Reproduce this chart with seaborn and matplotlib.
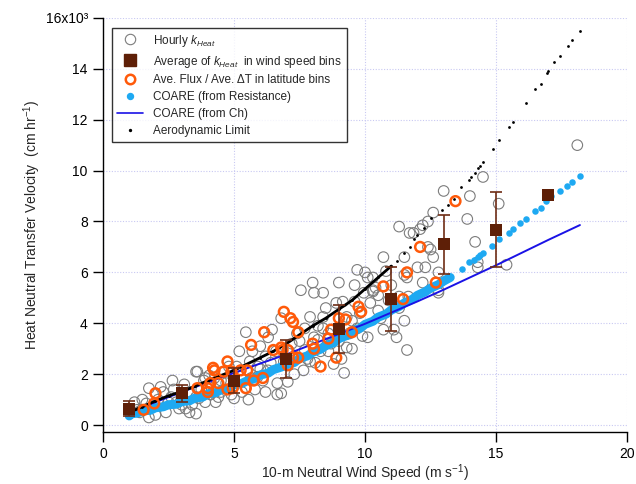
import matplotlib
matplotlib.use("Agg")
import matplotlib.pyplot as plt
import seaborn as sns
import pandas as pd
from matplotlib.lines import Line2D

# ---- Hourly transfer velocity estimates (wind m/s, k in 10^3 cm/hr) ----
hourly_wind = [18.1, 14.5, 13.0, 14.0, 15.1, 13.9, 14.2, 12.6, 12.4, 12.2, 12.1, 11.85,
               12.5, 12.6, 12.4, 12.8, 12.3, 14.3, 14.3, 15.4, 12.8, 12.2, 11.5, 10.7,
               12.0, 11.5, 11.6, 10.8, 10.3, 12.8, 10.4, 10.3, 11.3, 11.65, 11.5, 10.7,
               11.1, 11.2, 11.6, 9.7, 10.0, 10.1, 9.0, 7.55, 8.05, 8.4, 10.3, 8.9,
               9.15, 9.6, 9.95, 8.4, 7.9, 9.3, 9.5, 8.4, 8.6, 9.7, 10.1, 9.3,
               9.5, 8.05, 8.2, 7.7, 8.6, 7.9, 8.1, 7.65, 9.2, 7.05, 6.8, 5.2,
               3.6, 3.85, 4.05, 4.25, 4.5, 4.7, 5.0, 5.25, 5.65, 5.9, 6.1, 6.3,
               6.4, 6.65, 5.55, 5.0, 4.5, 4.4, 6.65, 3.55, 3.75, 6.3, 1.75, 2.2,
               2.3, 2.0, 1.75, 2.4, 2.9, 3.15, 2.65, 3.55, 3.9, 3.3, 3.55, 3.65,
               3.9, 1.65, 6.8, 6.45, 5.45, 1.3, 1.5, 2.6, 2.8, 3.1, 4.8, 5.6,
               6.0, 6.2, 5.8, 7.3, 7.4, 7.2, 8.8, 9.8, 10.5, 10.9, 11.7,
               1.2, 1.4, 2.1, 2.5, 2.7, 3.0, 3.3, 3.4, 4.1, 4.3, 4.6, 4.9,
               5.1, 5.3, 5.7, 5.9, 6.0, 6.2, 6.6, 6.9, 7.1, 7.3, 7.5, 7.7,
               7.8, 8.2, 8.3, 8.5, 8.7, 9.0, 9.1, 9.4, 9.9, 10.2, 10.6, 11.0,
               11.3, 8.0, 9.6, 10.5, 11.3]
hourly_k = [11.0, 9.75, 9.2, 9.0, 8.7, 8.1, 7.2, 8.35, 8.0, 7.85, 7.7, 7.55,
            6.9, 6.6, 7.0, 6.0, 6.2, 6.2, 6.4, 6.3, 5.2, 5.6, 6.6, 6.6,
            6.2, 5.9, 5.8, 6.05, 5.8, 5.3, 5.4, 5.25, 5.05, 5.05, 4.1, 3.75,
            3.75, 3.45, 2.95, 6.1, 6.0, 5.8, 5.6, 5.3, 5.2, 5.2, 5.3, 4.8,
            4.85, 4.85, 5.2, 4.25, 4.25, 4.25, 4.1, 3.8, 3.6, 3.8, 3.45, 3.05,
            3.0, 3.45, 3.35, 2.95, 2.9, 2.5, 2.45, 2.15, 2.05, 1.7, 1.25, 2.9,
            2.1, 1.75, 1.95, 1.85, 1.75, 1.65, 1.55, 1.9, 1.85, 1.9, 1.75, 2.15,
            2.45, 1.65, 1.0, 1.05, 1.3, 1.1, 1.2, 1.1, 1.4, 3.45, 1.45, 1.5,
            1.3, 0.4, 0.3, 0.5, 0.65, 0.65, 1.75, 2.1, 1.85, 0.5, 0.45, 1.05,
            0.9, 0.85, 4.2, 3.75, 3.65, 0.6, 1.0, 1.1, 0.9, 1.6, 2.3, 2.5,
            2.2, 1.3, 1.4, 2.0, 3.6, 3.2, 2.4, 4.4, 4.5, 4.9, 7.55,
            0.9, 0.5, 1.0, 0.9, 1.4, 0.8, 1.3, 0.8, 1.2, 0.9, 2.1, 1.2,
            2.3, 1.3, 2.9, 2.3, 3.1, 2.7, 2.9, 2.5, 2.9, 2.7, 3.3, 3.8,
            2.6, 3.9, 2.9, 4.6, 3.2, 3.3, 2.6, 3.6, 3.5, 4.8, 4.2, 5.5,
            4.6, 5.6, 5.5, 5.1, 7.8]

# ---- Bin averages in wind speed bins ----
bin_wind = [1, 3, 5, 7, 9, 11, 13, 15, 17]
bin_k = [0.65, 1.25, 1.75, 2.6, 3.78, 4.95, 7.1, 7.68, 9.05]
bin_sd = [0.3, 0.33, 0.5, 0.75, 0.93, 1.25, 1.15, 1.48, 0.0]

# ---- Ave. flux / ave. dT in latitude bins ----
lat_wind = [2.0, 1.55, 1.95, 4.2, 4.0, 6.9, 7.15, 7.25, 6.15, 5.65, 4.25, 4.75,
            4.6, 4.9, 5.25, 5.5, 5.75, 6.1, 5.45, 4.1, 4.4, 4.0, 4.75, 4.95,
            6.5, 6.8, 7.45, 6.85, 7.05, 7.05, 7.45, 8.0, 8.05, 8.3, 8.9, 8.7,
            8.6, 9.0, 9.25, 9.5, 9.75, 9.85, 10.7, 13.45, 12.1, 11.6, 12.7, 11.45,
            7.25, 3.6]
lat_k = [1.25, 0.6, 0.85, 2.25, 1.45, 4.45, 4.2, 4.05, 3.65, 3.15, 2.15, 2.5,
         2.1, 2.1, 2.15, 2.15, 1.75, 1.85, 1.45, 1.65, 1.65, 1.3, 1.4, 1.45,
         2.95, 3.05, 3.65, 2.95, 2.95, 2.35, 2.65, 3.2, 3.0, 2.3, 2.65, 3.75,
         3.4, 4.2, 4.15, 3.65, 4.65, 4.45, 5.45, 8.8, 7.0, 6.0, 5.6, 4.95,
         2.65, 1.45]

# ---- COARE bulk model, transfer from resistance ----
coare_r_wind = [1.0, 1.1, 1.3, 1.5, 1.8, 2.0, 2.3, 2.5, 2.8, 3.0, 3.3, 3.5, 3.8,
                4.0, 4.3, 4.5, 4.8, 5.0, 5.3, 5.5, 5.8, 6.0, 6.3, 6.5, 6.8, 7.0,
                7.3, 7.5, 7.8, 8.0, 8.3, 8.5, 8.8, 9.0, 9.3, 9.5, 9.8, 10.0, 10.3,
                10.5, 10.8, 11.0, 11.3, 11.5, 11.8, 12.0, 12.3, 12.5, 12.8, 13.0, 13.25,
                13.7, 13.95, 14.15, 14.3, 14.4, 14.5, 14.85, 15.1, 15.5, 15.65, 15.9,
                16.15, 16.5, 16.7, 16.9, 17.1, 17.45, 17.7, 17.9, 18.2]
coare_r_k = [0.36, 0.45, 0.47, 0.56, 0.58, 0.68, 0.72, 0.8, 0.82, 0.92, 0.96, 1.06, 1.1,
             1.22, 1.28, 1.38, 1.45, 1.58, 1.64, 1.74, 1.84, 1.97, 2.04, 2.18, 2.28, 2.37,
             2.46, 2.62, 2.72, 2.86, 2.98, 3.12, 3.24, 3.4, 3.52, 3.68, 3.8, 3.96, 4.08,
             4.24, 4.36, 4.52, 4.66, 4.8, 4.94, 5.1, 5.24, 5.38, 5.52, 5.66, 5.8,
             6.15, 6.4, 6.5, 6.6, 6.7, 6.75, 7.05, 7.3, 7.55, 7.7, 7.95,
             8.1, 8.4, 8.55, 8.8, 9.0, 9.2, 9.4, 9.55, 9.8]
coare_r_dense_max = 13.25

# ---- COARE bulk model, transfer from Ch ----
coare_ch_wind = [1.0, 2.0, 3.0, 4.0, 5.0, 6.0, 7.0, 8.0, 9.0, 10.0, 11.0, 12.0,
                 13.0, 14.0, 15.0, 16.0, 17.0, 18.2]
coare_ch_k = [0.5, 0.9, 1.3, 1.68, 2.05, 2.42, 2.78, 3.18, 3.58, 3.98, 4.42, 4.86,
              5.32, 5.8, 6.28, 6.78, 7.28, 7.86]

# ---- Aerodynamic limit ----
aero_wind = [1.0, 1.5, 2.0, 2.5, 3.0, 3.5, 4.0, 4.5, 5.0, 5.5, 6.0, 6.5, 7.0, 7.5,
             8.0, 8.5, 9.0, 9.5, 10.0, 10.5, 11.0,
             11.2, 11.5, 11.7, 11.85, 12.0, 12.25, 12.5, 12.95, 13.15, 13.4, 13.65,
             13.95, 14.05, 14.2, 14.3, 14.4, 14.5, 14.9, 15.1, 15.5, 15.65, 16.15,
             16.5, 16.7, 16.95, 17.0, 17.2, 17.45, 17.75, 17.9, 18.2]
aero_k = [0.5, 0.72, 0.95, 1.15, 1.32, 1.52, 1.75, 1.95, 2.15, 2.4, 2.65, 2.9, 3.2, 3.55,
          3.9, 4.2, 4.55, 4.9, 5.35, 5.8, 6.25,
          6.45, 6.75, 7.0, 7.3, 7.45, 7.75, 8.15, 8.45, 8.65, 8.9, 9.35,
          9.65, 9.75, 9.9, 10.1, 10.2, 10.35, 10.85, 11.2, 11.7, 11.9, 12.65,
          13.2, 13.4, 13.85, 13.9, 14.25, 14.5, 14.9, 15.15, 15.5]
aero_dense_max = 11.0

x_ticks = [0, 5, 10, 15, 20]
y_ticks = [0, 2, 4, 6, 8, 10, 12, 14, 16]
y_tick_labels = ["0", "2", "4", "6", "8", "10", "12", "14", "16x10\u00b3"]

C_GRAY = "#7c7c7c"
C_BROWN = "#5e1f07"
C_BAR = "#6e2c14"
C_ORANGE = "#ff5a0a"
C_CYAN = "#1ea9f2"
C_BLUE = "#1a12e6"

sns.set_style("ticks")
plt.rcParams["font.family"] = ["Liberation Sans", "DejaVu Sans"]
plt.rcParams["mathtext.fontset"] = "custom"
plt.rcParams["mathtext.rm"] = "Liberation Sans"
plt.rcParams["mathtext.it"] = "Liberation Sans:italic"
plt.rcParams["mathtext.default"] = "regular"

fig = plt.figure(figsize=(6.36, 4.84), dpi=100)
ax = fig.add_axes([0.162, 0.107, 0.824, 0.856])

hourly = pd.DataFrame({"wind": hourly_wind, "k": hourly_k})
latb = pd.DataFrame({"wind": lat_wind, "k": lat_k})
coare_r = pd.DataFrame({"wind": coare_r_wind, "k": coare_r_k})
coare_ch = pd.DataFrame({"wind": coare_ch_wind, "k": coare_ch_k})
aero = pd.DataFrame({"wind": aero_wind, "k": aero_k})

# hourly open circles
sns.scatterplot(data=hourly, x="wind", y="k", ax=ax, marker="o", s=58,
                linewidth=0.8, edgecolor=C_GRAY, zorder=2, legend=False)
ax.collections[-1].set_facecolor("none")

# COARE (resistance): dense band drawn as a thick trace under the dots
dense = coare_r[coare_r["wind"] <= coare_r_dense_max]
sns.lineplot(data=dense, x="wind", y="k", ax=ax, color=C_CYAN, linewidth=6.5,
             sort=True, estimator=None, zorder=3, legend=False,
             solid_capstyle="round")
sns.scatterplot(data=coare_r, x="wind", y="k", ax=ax, s=22, color=C_CYAN,
                linewidth=0, zorder=3, legend=False)

# COARE (Ch) line
sns.lineplot(data=coare_ch, x="wind", y="k", ax=ax, color=C_BLUE, linewidth=1.4,
             estimator=None, zorder=4, legend=False)

# aerodynamic limit
aero_dense = aero[aero["wind"] <= aero_dense_max]
sns.lineplot(data=aero_dense, x="wind", y="k", ax=ax, color="black", linewidth=2.0,
             estimator=None, zorder=5, legend=False)
sns.scatterplot(data=aero, x="wind", y="k", ax=ax, s=4, color="black",
                linewidth=0, zorder=5, legend=False)

# latitude-bin ratios
sns.scatterplot(data=latb, x="wind", y="k", ax=ax, marker="o", s=50,
                linewidth=1.8, edgecolor=C_ORANGE, zorder=6, legend=False)
ax.collections[-1].set_facecolor("none")

# wind-speed bin averages with standard deviation bars
ax.errorbar(bin_wind, bin_k, yerr=bin_sd, fmt="none", ecolor=C_BAR,
            elinewidth=1.2, capsize=4, capthick=1.2, zorder=7)
sns.scatterplot(x=bin_wind, y=bin_k, ax=ax, marker="s", s=70, color=C_BROWN,
                linewidth=0, zorder=8, legend=False)

ax.set_xlim(0, 20)
ax.set_ylim(-0.28, 16)
ax.set_xticks(x_ticks)
ax.set_yticks(y_ticks)
ax.set_yticklabels(y_tick_labels)
ax.grid(True, color="#c9c9f2", linestyle=(0, (1, 1.5)), linewidth=0.8)
ax.set_axisbelow(True)
for side in ("top", "right"):
    ax.spines[side].set_visible(False)
for side in ("left", "bottom"):
    ax.spines[side].set_color("black")
    ax.spines[side].set_linewidth(1.0)
ax.tick_params(axis="both", direction="out", length=7, width=1.0, color="black",
               labelsize=10, pad=4, labelcolor="black")

ax.set_xlabel("10-m Neutral Wind Speed (m s$^{-1}$)", fontsize=10, labelpad=1)
ax.set_ylabel("Heat Neutral Transfer Velocity  (cm hr$^{-1}$)", fontsize=10, labelpad=1.5)

handles = [
    Line2D([], [], ls="none", marker="o", mfc="none", mec=C_GRAY, mew=0.8, ms=7.5),
    Line2D([], [], ls="none", marker="s", color=C_BROWN, ms=8),
    Line2D([], [], ls="none", marker="o", mfc="none", mec=C_ORANGE, mew=1.8, ms=6.8),
    Line2D([], [], ls="none", marker="o", color=C_CYAN, ms=4.3),
    Line2D([], [], color=C_BLUE, lw=1.2),
    Line2D([], [], ls="none", marker="o", color="black", ms=1.4),
]
labels = [
    "Hourly $\\mathit{k}_{\\mathit{Heat}}$",
    "Average of $\\mathit{k}_{\\mathit{Heat}}$  in wind speed bins",
    "Ave. Flux / Ave. \u0394T in latitude bins",
    "COARE (from Resistance)",
    "COARE (from Ch)",
    "Aerodynamic Limit",
]
leg = ax.legend(handles, labels, loc="upper left", bbox_to_anchor=(0.017, 0.976),
                borderaxespad=0, frameon=True, fancybox=False, fontsize=8.5,
                handlelength=2.2, handletextpad=0.9, labelspacing=0.42,
                borderpad=0.4)
leg.get_frame().set_edgecolor("black")
leg.get_frame().set_linewidth(1.0)
leg.get_frame().set_facecolor("white")
leg.set_zorder(10)

fig.savefig("out.png", dpi=100)
